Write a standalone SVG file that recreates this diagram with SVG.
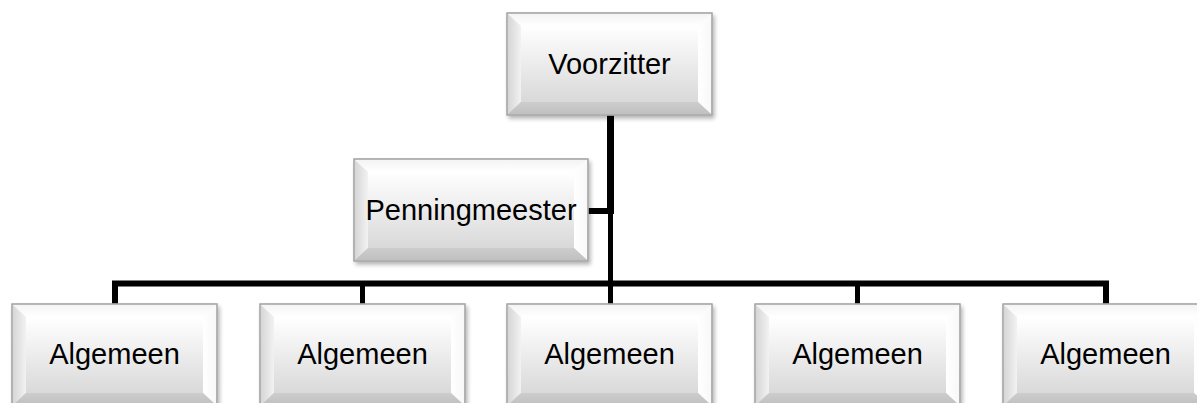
<svg xmlns="http://www.w3.org/2000/svg" width="1197" height="403" viewBox="0 0 1197 403">
<style>
.lbl{font-family:"Liberation Sans",Arial,sans-serif;font-size:29px;fill:#000;text-anchor:middle}
.frame{stroke:#a8a8a8;stroke-width:1.2}
.face{fill:url(#gFace)}
.top{fill:url(#gTop)}
.left{fill:url(#gLeft)}
.right{fill:url(#gRight)}
.bot{fill:url(#gBot)}
.wire{fill:none;stroke:#000;stroke-linejoin:miter;stroke-linecap:butt}
</style>
<defs>
<filter id="shadow" x="-10%" y="-15%" width="125%" height="140%">
<feGaussianBlur in="SourceAlpha" stdDeviation="2"/>
<feOffset dx="2" dy="3" result="b"/>
<feComponentTransfer><feFuncA type="linear" slope="0.3"/></feComponentTransfer>
<feMerge><feMergeNode/><feMergeNode in="SourceGraphic"/></feMerge>
</filter>
<linearGradient id="gFace" x1="0" y1="0" x2="0" y2="1">
<stop offset="0" stop-color="#ffffff"/><stop offset="1" stop-color="#d9d9d9"/>
</linearGradient>
<linearGradient id="gTop" x1="0" y1="0" x2="0" y2="1">
<stop offset="0" stop-color="#f4f4f4"/><stop offset="1" stop-color="#ffffff"/>
</linearGradient>
<linearGradient id="gLeft" x1="0" y1="0" x2="1" y2="0">
<stop offset="0" stop-color="#d6d6d6"/><stop offset="1" stop-color="#f2f2f2"/>
</linearGradient>
<linearGradient id="gRight" x1="0" y1="0" x2="1" y2="0">
<stop offset="0" stop-color="#ffffff"/><stop offset="1" stop-color="#f8f8f8"/>
</linearGradient>
<linearGradient id="gBot" x1="0" y1="0" x2="0" y2="1">
<stop offset="0" stop-color="#cdcdcd"/><stop offset="1" stop-color="#c0c0c0"/>
</linearGradient>
</defs>

<g id="connectors">
<path class="wire" stroke-width="7" d="M610.5 115 V211"/>
<path class="wire" stroke-width="5" d="M610.5 211 V283"/>
<path class="wire" stroke-width="6" d="M588 211 H614"/>
<path class="wire" stroke-width="6" d="M115 304 V283.5 H1106 V304"/>
<path class="wire" stroke-width="5" d="M362.5 283 V304 M610.5 283 V304 M857.5 283 V304"/>
</g>

<g id="voorzitter" transform="translate(507,13)">
<rect class="face frame" width="205" height="102" filter="url(#shadow)"/>
<polygon class="top" points="1,1 204,1 191,13 14,13"/>
<polygon class="left" points="1,1 14,13 14,89 1,101"/>
<polygon class="right" points="204,1 204,101 191,89 191,13"/>
<polygon class="bot" points="1,101 204,101 191,89 14,89"/>
<rect class="face" x="14" y="13" width="177" height="76"/>
<rect x="0" y="0" width="205" height="102" fill="none" class="frame"/>
<text class="lbl" x="102.5" y="61">Voorzitter</text>
</g>

<g id="penningmeester" transform="translate(354,159)">
<rect class="face frame" width="234" height="102" filter="url(#shadow)"/>
<polygon class="top" points="1,1 233,1 220,13 14,13"/>
<polygon class="left" points="1,1 14,13 14,89 1,101"/>
<polygon class="right" points="233,1 233,101 220,89 220,13"/>
<polygon class="bot" points="1,101 233,101 220,89 14,89"/>
<rect class="face" x="14" y="13" width="206" height="76"/>
<rect x="0" y="0" width="234" height="102" fill="none" class="frame"/>
<text class="lbl" x="117" y="61">Penningmeester</text>
</g>

<g id="algemeen1" transform="translate(12,304)">
<rect class="face frame" width="205" height="102" filter="url(#shadow)"/>
<polygon class="top" points="1,1 204,1 191,13 14,13"/>
<polygon class="left" points="1,1 14,13 14,89 1,101"/>
<polygon class="right" points="204,1 204,101 191,89 191,13"/>
<polygon class="bot" points="1,101 204,101 191,89 14,89"/>
<rect class="face" x="14" y="13" width="177" height="76"/>
<rect x="0" y="0" width="205" height="102" fill="none" class="frame"/>
<text class="lbl" x="102.5" y="60">Algemeen</text>
</g>

<g id="algemeen2" transform="translate(260,304)">
<rect class="face frame" width="205" height="102" filter="url(#shadow)"/>
<polygon class="top" points="1,1 204,1 191,13 14,13"/>
<polygon class="left" points="1,1 14,13 14,89 1,101"/>
<polygon class="right" points="204,1 204,101 191,89 191,13"/>
<polygon class="bot" points="1,101 204,101 191,89 14,89"/>
<rect class="face" x="14" y="13" width="177" height="76"/>
<rect x="0" y="0" width="205" height="102" fill="none" class="frame"/>
<text class="lbl" x="102.5" y="60">Algemeen</text>
</g>

<g id="algemeen3" transform="translate(507,304)">
<rect class="face frame" width="205" height="102" filter="url(#shadow)"/>
<polygon class="top" points="1,1 204,1 191,13 14,13"/>
<polygon class="left" points="1,1 14,13 14,89 1,101"/>
<polygon class="right" points="204,1 204,101 191,89 191,13"/>
<polygon class="bot" points="1,101 204,101 191,89 14,89"/>
<rect class="face" x="14" y="13" width="177" height="76"/>
<rect x="0" y="0" width="205" height="102" fill="none" class="frame"/>
<text class="lbl" x="102.5" y="60">Algemeen</text>
</g>

<g id="algemeen4" transform="translate(755,304)">
<rect class="face frame" width="205" height="102" filter="url(#shadow)"/>
<polygon class="top" points="1,1 204,1 191,13 14,13"/>
<polygon class="left" points="1,1 14,13 14,89 1,101"/>
<polygon class="right" points="204,1 204,101 191,89 191,13"/>
<polygon class="bot" points="1,101 204,101 191,89 14,89"/>
<rect class="face" x="14" y="13" width="177" height="76"/>
<rect x="0" y="0" width="205" height="102" fill="none" class="frame"/>
<text class="lbl" x="102.5" y="60">Algemeen</text>
</g>

<g id="algemeen5" transform="translate(1003,304)">
<rect class="face frame" width="205" height="102" filter="url(#shadow)"/>
<polygon class="top" points="1,1 204,1 191,13 14,13"/>
<polygon class="left" points="1,1 14,13 14,89 1,101"/>
<polygon class="right" points="204,1 204,101 191,89 191,13"/>
<polygon class="bot" points="1,101 204,101 191,89 14,89"/>
<rect class="face" x="14" y="13" width="177" height="76"/>
<rect x="0" y="0" width="205" height="102" fill="none" class="frame"/>
<text class="lbl" x="102.5" y="60">Algemeen</text>
</g>
</svg>
